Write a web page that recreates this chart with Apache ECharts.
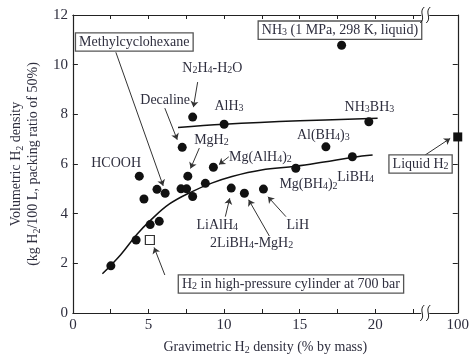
<!DOCTYPE html>
<html><head><meta charset="utf-8">
<script src="https://cdn.jsdelivr.net/npm/echarts@6/dist/echarts.min.js"></script>
<style>html,body{margin:0;padding:0;background:#fff}#c{width:472px;height:360px}</style>
</head><body><div id="c"></div>
<script>
// ---- data ----
const X_MAX = 25.45;          // axis position where the "100" (liquid H2) sits after the break
const BREAK_X = 23.3;
const xTickLabels = [0, 5, 10, 15, 20, 100];
const yTickLabels = [0, 2, 4, 6, 8, 10, 12];
// material points [gravimetric %, volumetric kg/100L]
const materials = [
  [4.39,5.51],[4.70,4.59],[5.56,4.98],[6.10,4.82],[5.11,3.56],[5.71,3.69],[4.18,2.94],[2.51,1.90],
  [7.23,6.67],[7.92,7.89],[10.0,7.60],[7.60,5.51],[7.15,5.00],[7.52,5.00],[7.92,4.69],[8.76,5.22],
  [9.29,5.87],[10.47,5.03],[11.34,4.82],[12.60,4.99],[14.74,5.83],[16.73,6.69],[18.48,6.29],
  [19.57,7.70],[17.77,10.78]
];
const cylinder = [[5.09, 2.94]];
const liquidH2 = [[100, 7.09]];
const upperLine = [[6.95,7.47],[10,7.60],[15,7.74],[20.15,7.84]];
const lowerCurve = [[1.95,1.58],[3.16,2.35],[4.24,3.17],[5.11,3.72],[6.41,4.40],[7.92,4.90],[9.22,5.24],
  [10.52,5.50],[12.47,5.76],[14.74,5.91],[16.6,6.08],[18.53,6.27],[19.82,6.36]];
// annotations: [text, x, y, boxed]
const labels = [
  ['Methylcyclohexane', 4.06, 10.91, true],
  ['NH{s|3} (1 MPa, 298 K, liquid)', 17.66, 11.39, true],
  ['N{s|2}H{s|4}-H{s|2}O', 9.22, 9.86, false],
  ['Decaline', 6.10, 8.57, false],
  ['AlH{s|3}', 10.32, 8.33, false],
  ['NH{s|3}BH{s|3}', 19.61, 8.29, false],
  ['MgH{s|2}', 9.16, 6.96, false],
  ['Al(BH{s|4}){s|3}', 16.56, 7.16, false],
  ['Mg(AlH{s|4}){s|2}', 12.40, 6.28, false],
  ['HCOOH', 2.86, 6.04, false],
  ['LiBH{s|4}', 18.70, 5.47, false],
  ['Mg(BH{s|4}){s|2}', 15.58, 5.19, false],
  ['LiAlH{s|4}', 9.55, 3.54, false],
  ['LiH', 14.87, 3.54, false],
  ['2LiBH{s|4}-MgH{s|2}', 11.82, 2.82, false],
  ['H{s|2} in high-pressure cylinder at 700 bar', 14.42, 1.17, true],
  ['Liquid H{s|2}', 22.99, 6.00, true]
];
// leader arrows [[x1,y1],[x2,y2]]
const arrows = [
  [[2.84,10.50],[5.97,5.12]],
  [[8.25,9.30],[7.97,8.29]],
  [[6.08,8.25],[6.90,6.98]],
  [[8.36,6.64],[7.78,5.82]],
  [[10.31,6.29],[9.66,5.98]],
  [[14.09,3.88],[12.90,4.68]],
  [[10.08,3.88],[10.37,4.62]],
  [[12.99,3.10],[11.62,4.56]],
  [[6.08,1.53],[5.37,2.64]],
  [[23.29,6.36],[24.95,7.03]]
];

const mapX = v => v > 20 ? X_MAX - (100 - v) : v;
const FONT = 'Liberation Serif';
const TXT = '#2e2e3e';
const rich = {
  s: {fontSize: 10, fontFamily: FONT, color: TXT, verticalAlign: 'bottom', lineHeight: 9}
};
const chart = echarts.init(document.getElementById('c'), null, {renderer: 'canvas'});
const ticks = []; for (let i = 0; i <= 9; i++) ticks.push(i * 2.5);
ticks.push(X_MAX);
const xLabelPos = xTickLabels.map(mapX);
const axisCommon = {
  axisLine: {show: true, onZero: false, lineStyle: {color: '#222', width: 1.2}},
  splitLine: {show: false}
};
const option = {
  animation: false,
  grid: {left: 68, right: 12, top: 15, bottom: 47},
  xAxis: [{
    type: 'value', min: 0, max: X_MAX, position: 'bottom', ...axisCommon,
    axisTick: {inside: true, length: 4, customValues: ticks, lineStyle: {color: '#222'}},
    axisLabel: {customValues: xLabelPos, margin: 5, fontFamily: FONT, fontSize: 15, color: TXT,
      formatter: v => Math.abs(v - X_MAX) < 1e-6 ? '100' : String(Math.round(v))},
    name: 'Gravimetric H{s|2} density (% by mass)', nameLocation: 'middle', nameGap: 26,
    nameTextStyle: {fontFamily: FONT, fontSize: 14, color: TXT, lineHeight: 16, rich: rich}
  }, {
    type: 'value', min: 0, max: X_MAX, position: 'top', ...axisCommon,
    axisTick: {inside: true, length: 4, customValues: ticks.slice(0, -1), lineStyle: {color: '#222'}},
    axisLabel: {show: false}
  }],
  yAxis: [{
    type: 'value', min: 0, max: 12, interval: 2, position: 'left', ...axisCommon,
    axisTick: {inside: true, length: 5, lineStyle: {color: '#222'}},
    axisLabel: {margin: 5, fontFamily: FONT, fontSize: 15, color: TXT,
      formatter: v => yTickLabels.includes(v) ? String(v) : ''},
    name: 'Volumetric H{s|2} density\n(kg H{s|2}/100 L, packing ratio of 50%)',
    nameLocation: 'middle', nameGap: 27,
    nameTextStyle: {fontFamily: FONT, fontSize: 14, color: TXT, lineHeight: 17, rich: rich}
  }, {
    type: 'value', min: 0, max: 12, interval: 2, position: 'right', ...axisCommon,
    axisTick: {inside: true, length: 5, lineStyle: {color: '#222'}},
    axisLabel: {show: false}
  }],
  series: [
    {type: 'line', data: upperLine, showSymbol: false, symbol: 'none', smooth: 0.4,
      lineStyle: {color: '#111', width: 1.5}, z: 2},
    {type: 'line', data: lowerCurve, showSymbol: false, symbol: 'none', smooth: 0.4,
      lineStyle: {color: '#111', width: 1.5}, z: 2},
    {type: 'lines', coordinateSystem: 'cartesian2d', z: 3,
      data: arrows.map(a => ({coords: a})),
      symbol: ['none', 'arrow'], symbolSize: [0, 6],
      lineStyle: {color: '#333', width: 1, opacity: 1}},
    {type: 'scatter', data: materials, symbol: 'circle', symbolSize: 9,
      itemStyle: {color: '#111', opacity: 1}, z: 4},
    {type: 'scatter', data: cylinder, symbol: 'rect', symbolSize: 9,
      itemStyle: {color: '#fff', borderColor: '#333', borderWidth: 1.2, opacity: 1}, z: 4},
    {type: 'scatter', data: liquidH2.map(p => [mapX(p[0]), p[1]]), symbol: 'rect', symbolSize: 9,
      itemStyle: {color: '#111', opacity: 1}, clip: false, z: 6},
    {type: 'scatter', symbolSize: 1, z: 5, silent: true, clip: false,
      itemStyle: {color: 'rgba(0,0,0,0)', opacity: 1},
      labelLayout: {hideOverlap: false},
      data: labels.map(l => ({
        value: [l[1], l[2]],
        label: {
          show: true, position: 'inside', formatter: l[0],
          fontFamily: FONT, fontSize: 14, color: TXT, lineHeight: 15, rich: rich,
          backgroundColor: l[3] ? '#fff' : 'transparent',
          borderColor: l[3] ? '#555' : 'transparent', borderWidth: l[3] ? 1.3 : 0,
          padding: l[3] ? [1, 3, 1, 3] : 0
        }
      }))}
  ]
};
chart.setOption(option);

// axis-break marks
const pTop = chart.convertToPixel({xAxisIndex: 0, yAxisIndex: 0}, [BREAK_X, 12]);
const pBot = chart.convertToPixel({xAxisIndex: 0, yAxisIndex: 0}, [BREAK_X, 0]);
function breakMark(p) {
  const x = p[0], y = p[1];
  const wave = dx => ({type: 'bezierCurve', shape: {
      x1: x + dx + 2, y1: y - 8, cpx1: x + dx - 4, cpy1: y - 3,
      cpx2: x + dx + 4, cpy2: y + 3, x2: x + dx - 2, y2: y + 8},
    style: {stroke: '#222', lineWidth: 1, fill: null}, z: 101});
  return [
    {type: 'rect', shape: {x: x - 4, y: y - 3, width: 8, height: 6},
      style: {fill: '#fff'}, z: 100},
    wave(-3), wave(3)
  ];
}
chart.setOption({graphic: [...breakMark(pTop), ...breakMark(pBot)]});
</script></body></html>
